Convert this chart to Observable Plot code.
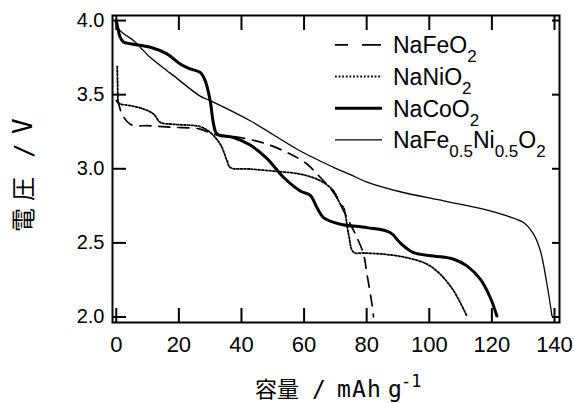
<!DOCTYPE html>
<html><head><meta charset="utf-8">
<script src="https://cdn.jsdelivr.net/npm/d3@7"></script>
<script src="https://cdn.jsdelivr.net/npm/@observablehq/plot@0.6"></script>
<style>
body{margin:0;background:#fff}
#chart{width:574px;height:403px;overflow:hidden}
</style>
</head><body><div id="chart"></div>
<script>
// ---- data ----
const xTicks = [0, 20, 40, 60, 80, 100, 120, 140];
const yTicks = [2.0, 2.5, 3.0, 3.5, 4.0];

const seriesNames = ["NaFeO2", "NaNiO2", "NaCoO2", "NaFe0.5Ni0.5O2"];

const feCap = [0, 0.7, 1.8, 4.5, 10.9, 18.2, 26.8, 31.1, 39.6, 48.1, 55.6, 60.9, 65.2, 69.4, 73.7, 76.9, 79.0, 80.1, 81.7, 82.2];
const feV   = [3.46, 3.44, 3.37, 3.30, 3.29, 3.28, 3.268, 3.234, 3.211, 3.167, 3.099, 3.032, 2.941, 2.84, 2.671, 2.536, 2.424, 2.288, 2.086, 2.0];

const niCap = [0.3, 0.4, 0.5, 0.7, 1.3, 4.5, 8.7, 11.9, 14.1, 18.3, 26.8, 30.0, 33.2, 35.4, 36.4, 42.8, 51.3, 58.8, 65.2, 69.4, 71.6, 72.6, 74.2, 75.8, 79.0, 85.4, 92.9, 99.3, 103.5, 107.8, 112.0];
const niV   = [3.69, 3.60, 3.50, 3.45, 3.437, 3.426, 3.403, 3.37, 3.313, 3.30, 3.284, 3.245, 3.167, 3.054, 3.009, 2.998, 2.982, 2.964, 2.919, 2.851, 2.761, 2.74, 2.56, 2.437, 2.432, 2.424, 2.40, 2.356, 2.289, 2.176, 2.007];

const coCap = [0.1, 0.5, 1.2, 2.3, 4.5, 10.9, 16.2, 20.4, 23.6, 26.8, 28.4, 30.0, 31.1, 32.2, 37.5, 42.8, 48.1, 53.5, 58.8, 62.0, 64.1, 66.2, 71.6, 80.1, 87.5, 90.7, 95.0, 101.4, 107.8, 112.0, 116.3, 119.5, 121.6];
const coV   = [3.99, 3.95, 3.89, 3.855, 3.843, 3.82, 3.775, 3.707, 3.674, 3.65, 3.595, 3.46, 3.30, 3.234, 3.211, 3.16, 3.07, 2.941, 2.85, 2.82, 2.739, 2.671, 2.626, 2.603, 2.57, 2.50, 2.434, 2.412, 2.39, 2.345, 2.255, 2.13, 2.007];

const mixCap = [0, 0.2, 2.5, 5.5, 8.7, 10.9, 16.2, 18.2, 26.8, 30.0, 42.8, 58.8, 69.4, 74.8, 80.1, 90.7, 104.6, 117.3, 124.8, 130.1, 133.3, 135.5, 137.6, 139.2];
const mixV   = [3.98, 3.955, 3.91, 3.865, 3.797, 3.75, 3.662, 3.63, 3.49, 3.46, 3.324, 3.12, 3.01, 2.96, 2.91, 2.845, 2.784, 2.728, 2.682, 2.637, 2.559, 2.446, 2.221, 2.007];

const toRows = (cap, v) => cap.map((c, i) => ({cap: c, v: v[i]}));

const styles = [
  {stroke: "black", strokeWidth: 1.7, strokeDasharray: "11,8", legendDash: "13,14,19"},
  {stroke: "black", strokeWidth: 1.8, strokeDasharray: "1.8,1.8", legendDash: "1.8,1.8"},
  {stroke: "black", strokeWidth: 3, strokeDasharray: null, legendDash: null},
  {stroke: "black", strokeWidth: 1.3, strokeDasharray: null, legendDash: null}
];
const datasets = [toRows(feCap, feV), toRows(niCap, niV), toRows(coCap, coV), toRows(mixCap, mixV)];

const latin = "'Liberation Sans', Arial, sans-serif";

const plot = Plot.plot({
  width: 574, height: 403,
  marginLeft: 112, marginRight: 15, marginTop: 15, marginBottom: 81,
  style: {fontFamily: latin, background: "white", color: "black"},
  x: {domain: [-1.2, 141.6], label: null},
  y: {domain: [1.963, 4.034], label: null},
  marks: [
    ...datasets.map((d, i) => Plot.line(d, {
      x: "cap", y: "v", stroke: styles[i].stroke, strokeWidth: styles[i].strokeWidth,
      strokeDasharray: styles[i].strokeDasharray, curve: "catmull-rom"
    })),
    Plot.frame({stroke: "black", strokeWidth: 2}),
    Plot.axisX({ticks: xTicks, anchor: "bottom", tickSize: -14, tickPadding: 28, strokeWidth: 2, fontSize: 22, tickFormat: d => String(d), label: null}),
    Plot.axisX({ticks: xTicks, anchor: "top", tickSize: -14, strokeWidth: 2, tickFormat: () => "", label: null}),
    Plot.axisY({ticks: yTicks, anchor: "left", tickSize: -14, tickPadding: 22, strokeWidth: 2, fontSize: 20, tickFormat: d3.format(".1f"), label: null}),
    Plot.axisY({ticks: yTicks, anchor: "right", tickSize: -8, strokeWidth: 2, tickFormat: () => "", label: null})
  ]
});

const svg = d3.select(plot);

// legend
const legendParts = [
  [["NaFe", 0], ["O", 0], ["2", 1]],
  [["NaNi", 0], ["O", 0], ["2", 1]],
  [["NaCo", 0], ["O", 0], ["2", 1]],
  [["NaFe", 0], ["0.5", 1], ["Ni", 0], ["0.5", 1], ["O", 0], ["2", 1]]
];
const lg = svg.append("g").attr("font-family", latin).attr("fill", "black").attr("text-anchor", "start");
legendParts.forEach((parts, i) => {
  const yb = 53.3 + i * 31.7;
  const ln = lg.append("line")
    .attr("x1", 335).attr("x2", 382).attr("y1", yb - 8.5).attr("y2", yb - 8.5)
    .attr("stroke", "black").attr("stroke-width", styles[i].strokeWidth);
  if (styles[i].legendDash) ln.attr("stroke-dasharray", styles[i].legendDash);
  const t = lg.append("text").attr("x", 393).attr("y", yb).attr("font-size", 23);
  let sub = false;
  parts.forEach(([s, isSub]) => {
    const ts = t.append("tspan").text(s);
    if (isSub && !sub) { ts.attr("dy", 9).attr("font-size", 17); sub = true; }
    else if (isSub) { ts.attr("font-size", 17); }
    else if (!isSub && sub) { ts.attr("dy", -9); sub = false; }
  });
});

// x axis title
const cjk = "'Noto Sans CJK JP', sans-serif";
const mono = "'DejaVu Sans Mono', monospace";
const xt = svg.append("text").attr("y", 397).attr("fill", "black").attr("text-anchor", "start");
xt.append("tspan").attr("x", 255).attr("font-family", cjk).attr("font-size", 22).text("容量");
xt.append("tspan").attr("x", 312).attr("font-family", mono).attr("font-size", 23).text("/");
xt.append("tspan").attr("x", 337).attr("font-family", mono).attr("font-size", 23).attr("letter-spacing", 1.2).text("mAh");
xt.append("tspan").attr("x", 388).attr("font-family", mono).attr("font-size", 23).text("g");
xt.append("tspan").attr("x", 401).attr("y", 387).attr("font-family", mono).attr("font-size", 17).text("-1");

// y axis title
const yg = svg.append("g").attr("transform", "translate(32,0) rotate(-90)");
const yt = yg.append("text").attr("y", 0).attr("fill", "black").attr("text-anchor", "start");
yt.append("tspan").attr("x", -232).attr("font-family", cjk).attr("font-size", 24).text("電");
yt.append("tspan").attr("x", -201).attr("font-family", cjk).attr("font-size", 24).text("圧");
yt.append("tspan").attr("x", -158).attr("font-family", mono).attr("font-size", 24).text("/");
yt.append("tspan").attr("x", -134).attr("font-family", mono).attr("font-size", 26).text("V");

document.getElementById("chart").appendChild(plot);
</script>
</body></html>
